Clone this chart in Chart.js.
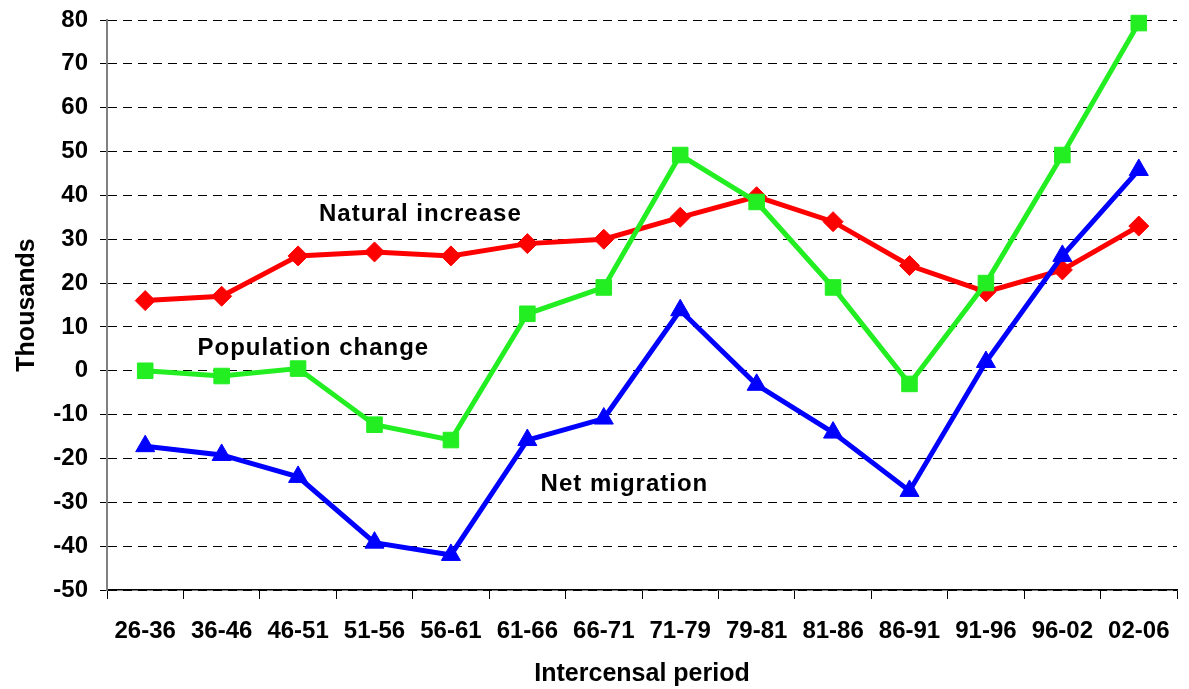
<!DOCTYPE html>
<html>
<head>
<meta charset="utf-8">
<script src="https://cdn.jsdelivr.net/npm/chart.js@4/dist/chart.umd.min.js"></script>
<style>
  html, body { margin: 0; padding: 0; background: #fff; }
  #wrap { width: 1189px; height: 689px; }
</style>
</head>
<body>
<div id="wrap"><canvas id="grafico"></canvas></div>
<script>
const periodos = ["26-36", "36-46", "46-51", "51-56", "56-61", "61-66", "66-71",
  "71-79", "79-81", "81-86", "86-91", "91-96", "96-02", "02-06"];

const crecimientoNatural = [16, 17, 26.2, 27.1, 26.2, 29, 30, 35, 39.7, 34, 24, 18, 23, 33];

const cambioPoblacion = [0, -1.2, 0.5, -12.3, -15.8, 13, 19, 49.2, 38.5, 19, -3, 20, 49.2, 79.3];

const migracionNeta = [-17.2, -19.2, -24.2, -39.2, -42, -15.8, -10.9, 13.8, -3.2, -14.1, -27.4, 2, 26.2, 45.8];

// etiquetas sobre el área del gráfico: [texto, índice de categoría, valor]
const etiquetas = [
  ["Natural increase", 3.6, 35.6],
  ["Population change", 2.2, 5],
  ["Net migration", 6.27, -26],
];

const fuente = "'Liberation Sans', Arial, sans-serif";

const pluginEtiquetas = {
  id: "etiquetas",
  afterDatasetsDraw(chart) {
    const ctx = chart.ctx;
    const x = chart.scales.x;
    const y = chart.scales.y;
    ctx.save();
    ctx.font = "bold 24px " + fuente;
    ctx.letterSpacing = "1px";
    ctx.fillStyle = "#000";
    ctx.textAlign = "center";
    ctx.textBaseline = "middle";
    etiquetas.forEach(([texto, i, v]) => {
      ctx.fillText(texto, x.getPixelForDecimal((i + 0.5) / periodos.length), y.getPixelForValue(v));
    });
    ctx.restore();
  },
};

new Chart(document.getElementById("grafico"), {
  type: "line",
  data: {
    labels: periodos,
    datasets: [
      {
        label: "Natural increase",
        data: crecimientoNatural,
        borderColor: "#ff0000",
        backgroundColor: "#ff0000",
        borderWidth: 5,
        pointStyle: "rectRot",
        pointRadius: 10,
        pointBorderWidth: 1,
        tension: 0,
        order: 3,
      },
      {
        label: "Population change",
        data: cambioPoblacion,
        borderColor: "#22ee22",
        backgroundColor: "#22ee22",
        borderWidth: 5,
        pointStyle: "rect",
        pointRadius: 11,
        pointBorderWidth: 1,
        tension: 0,
        order: 2,
      },
      {
        label: "Net migration",
        data: migracionNeta,
        borderColor: "#0000ff",
        backgroundColor: "#0000ff",
        borderWidth: 5,
        pointStyle: "triangle",
        pointRadius: 11,
        pointBorderWidth: 1,
        tension: 0,
        order: 1,
      },
    ],
  },
  options: {
    responsive: true,
    maintainAspectRatio: false,
    animation: false,
    clip: false,
    layout: {
      padding: { left: 0, right: 11, top: 20, bottom: 0 },
    },
    plugins: {
      legend: { display: false },
      tooltip: { enabled: false },
    },
    scales: {
      x: {
        offset: true,
        afterFit(scale) {
          scale.height = 99;
        },
        grid: {
          offset: true,
          drawOnChartArea: false,
          tickLength: 9,
          color: "#000",
        },
        border: { color: "#000", width: 1.5 },
        ticks: {
          color: "#000",
          padding: 18,
          maxRotation: 0,
          autoSkip: false,
          font: { family: fuente, size: 24, weight: "bold" },
        },
        title: {
          display: true,
          text: "Intercensal period",
          color: "#000",
          padding: { top: 0, bottom: 0 },
          font: { family: fuente, size: 25, weight: "bold" },
        },
      },
      y: {
        min: -50,
        max: 80,
        afterFit(scale) {
          scale.width = 107;
          scale.paddingTop = 0;
          scale.paddingBottom = 0;
        },
        ticks: {
          stepSize: 10,
          color: "#000",
          padding: 12,
          font: { family: fuente, size: 24, weight: "bold" },
        },
        grid: {
          color: "#000",
          lineWidth: 1,
          tickLength: 7,
          tickBorderDash: [9, 6],
        },
        border: { color: "#808080", width: 2, dash: [9, 6] },
        title: {
          display: true,
          text: "Thousands",
          color: "#000",
          padding: { top: 12, bottom: 0 },
          font: { family: fuente, size: 25, weight: "bold" },
        },
      },
    },
  },
  plugins: [pluginEtiquetas],
});
</script>
</body>
</html>
